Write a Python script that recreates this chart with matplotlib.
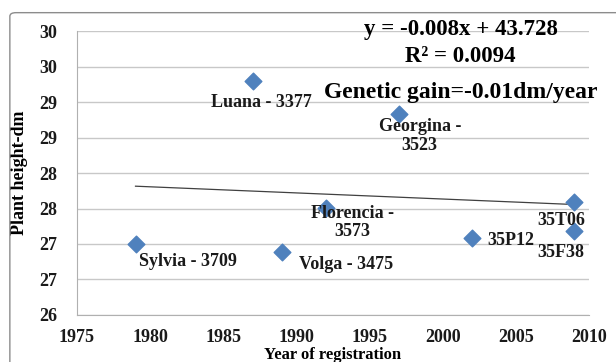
import matplotlib.pyplot as plt
from matplotlib.patches import FancyBboxPatch
from matplotlib.ticker import FuncFormatter, MultipleLocator
import numpy as np

# varieties, registration year and plant height (dm)
varieties = ['Sylvia - 3709', 'Luana - 3377', 'Volga - 3475', 'Florencia -\n3573',
             'Georgina -\n3523', '35P12', '35T06', '35F38']
years = [1979, 1987, 1989, 1992, 1997, 2002, 2009, 2009]
heights = [27.0, 29.30, 26.89, 27.51, 28.83, 27.08, 27.59, 27.18]

# label offsets (pixels) relative to each marker
offsets = [(52, -18), (9, -22), (64, -13), (27, -15), (21, -22), (39, -2), (-13, -18), (-13, -21)]

slope = -0.008
intercept = 43.728
r2 = 0.0094

plt.rcParams['font.family'] = 'Liberation Serif'
plt.rcParams['font.weight'] = 'bold'

fig = plt.figure(figsize=(6.16, 3.62), dpi=100)
ax = fig.add_axes([0.125, 0.130, 0.831, 0.784])

# outer chart frame (runs off the right and bottom edges)
fig.patches.append(FancyBboxPatch((0.016, -0.05), 1.1, 1.015, boxstyle='round,pad=0,rounding_size=0.01',
                                  transform=fig.transFigure, fill=False, edgecolor='#8c8c8c', linewidth=1.0))

ax.scatter(years, heights, marker='D', s=72, color='#4F81BD', zorder=3)

# linear trend through the points
fit = np.polyfit(years, heights, 1)
xs = np.array([min(years), max(years)])
ax.plot(xs, np.polyval(fit, xs), color='#404040', linewidth=0.9, zorder=2)

for name, x, y, (dx, dy) in zip(varieties, years, heights, offsets):
    ax.annotate(name, (x, y), xytext=(dx, dy), textcoords='offset pixels',
                ha='center', va='center', multialignment='center',
                fontsize=13, fontweight='bold', color='#1a1a1a', linespacing=1.1)

ax.set_xlim(1975, 2010)
ax.set_ylim(26, 30)
ax.xaxis.set_major_locator(MultipleLocator(5))
ax.yaxis.set_major_locator(MultipleLocator(0.5))
ax.yaxis.set_major_formatter(FuncFormatter(lambda v, p: f'{int(np.floor(v + 0.5))}'))
ax.grid(axis='y', color='#c8c8c8', linewidth=1.0)
ax.set_axisbelow(True)
for s in ['top', 'right']:
    ax.spines[s].set_visible(False)
for s in ['left', 'bottom']:
    ax.spines[s].set_color('#b0b0b0')
ax.tick_params(length=0, labelsize=13, colors='#1a1a1a')
ax.tick_params(axis='x', pad=10)
ax.tick_params(axis='y', pad=14)
for lab in ax.get_xticklabels() + ax.get_yticklabels():
    lab.set_fontweight('bold')

ax.set_ylabel('Plant height-dm', fontsize=13, fontweight='bold', labelpad=8)
ax.set_xlabel('Year of registration', fontsize=12, fontweight='bold', labelpad=1)

ax.text(0.75, 1.004, f'y = {slope}x + {intercept}', transform=ax.transAxes,
        ha='center', va='center', fontsize=16.5, fontweight='bold')
ax.text(0.748, 0.912, f'R² = {r2}', transform=ax.transAxes,
        ha='center', va='center', fontsize=16.5, fontweight='bold')
ax.text(0.75, 0.785, 'Genetic gain=-0.01dm/year', transform=ax.transAxes,
        ha='center', va='center', fontsize=17, fontweight='bold')

fig.savefig('out.png', dpi=100)
